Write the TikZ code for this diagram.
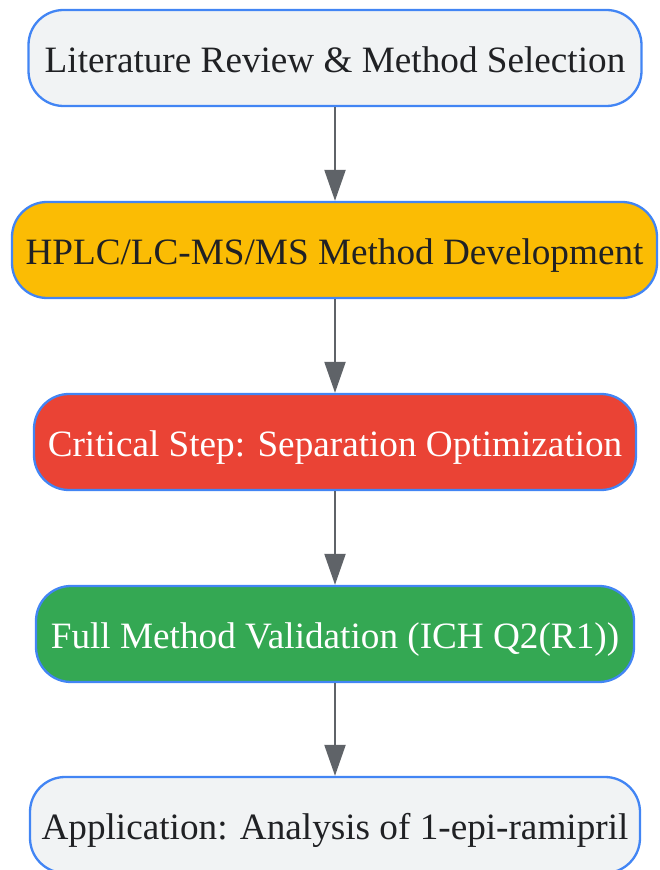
\documentclass[tikz,border=0pt]{standalone}
\usepackage{fontspec}
\setmainfont{Liberation Serif}
\usetikzlibrary{arrows.meta}
\definecolor{boxgray}{HTML}{F1F3F4}
\definecolor{boxblue}{HTML}{4285F4}
\definecolor{boxyellow}{HTML}{FBBC04}
\definecolor{boxred}{HTML}{EA4335}
\definecolor{boxgreen}{HTML}{34A853}
\definecolor{arrowgray}{HTML}{5F6368}
\definecolor{textdark}{HTML}{202124}
\tikzset{
  flowbox/.style={draw=boxblue, line width=2.3pt, rounded corners=35pt, minimum height=96pt, inner sep=0pt, text height=33pt, text depth=4pt, font=\fontsize{37.2}{44}\selectfont, text=textdark},
  flowarrow/.style={draw=arrowgray, line width=2.2pt, -{Triangle[length=31pt,width=21pt]}}
}
\begin{document}
\begin{tikzpicture}[x=1pt,y=1pt]
\useasboundingbox (0,0) rectangle (659,870);
\node[flowbox, fill=boxgray, minimum width=613pt] (a) at (335,812) {Literature Review \& Method Selection};
\node[flowbox, fill=boxyellow, minimum width=645pt] (b) at (334.5,620) {HPLC/LC-MS/MS Method Development};
\node[flowbox, fill=boxred, text=white, minimum width=602pt] (c) at (335,428) {Critical Step: Separation Optimization};
\node[flowbox, fill=boxgreen, text=white, minimum width=598pt] (d) at (335,236) {Full Method Validation (ICH Q2(R1))};
\node[flowbox, fill=boxgray, minimum width=610pt] (e) at (335,45) {Application: Analysis of 1-epi-ramipril};
\draw[flowarrow] (a.south) -- (b.north -| a.south);
\draw[flowarrow] (b.south -| a.south) -- (c.north);
\draw[flowarrow] (c.south) -- (d.north);
\draw[flowarrow] (d.south) -- (e.north);
\end{tikzpicture}
\end{document}
